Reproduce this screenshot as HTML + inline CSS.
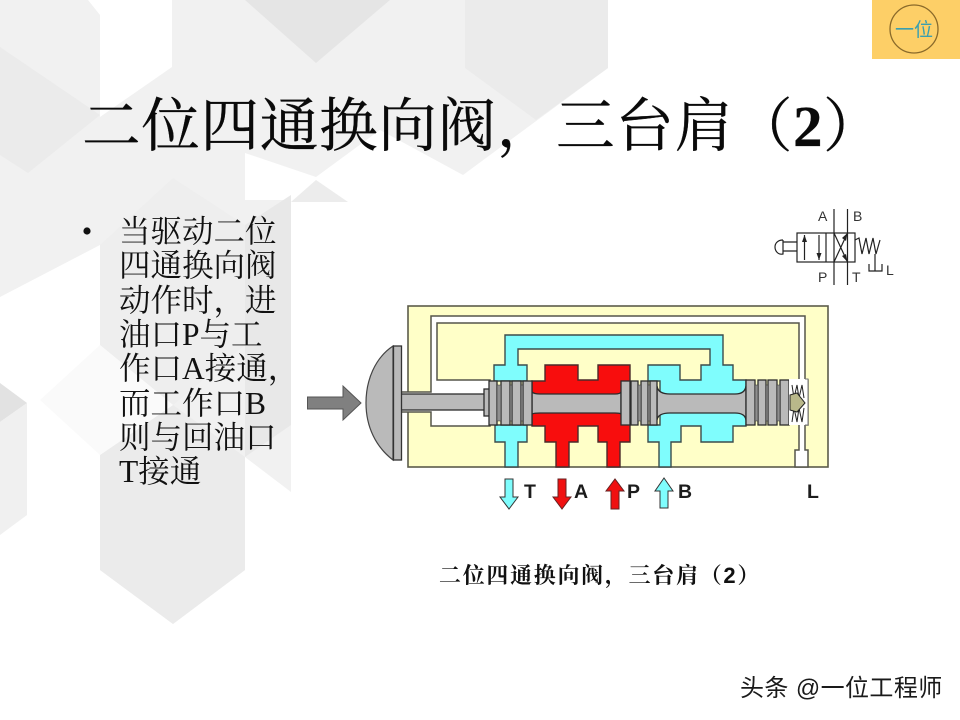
<!DOCTYPE html>
<html lang="zh"><head><meta charset="utf-8"><title>二位四通换向阀&#xFF0C;三台肩&#xFF08;2&#xFF09;</title>
<style>html,body{margin:0;padding:0;background:#fff}svg{display:block}
.b{font-family:"Liberation Serif","Noto Serif CJK SC",serif;font-size:31.5px;fill:#111}
.l{font-family:"Liberation Sans",sans-serif;font-weight:bold;font-size:19.5px;fill:#1c1c1c}
.s{font-family:"Liberation Sans",sans-serif;font-size:14px;fill:#333}</style></head>
<body>
<svg width="960" height="720" viewBox="0 0 960 720" xmlns="http://www.w3.org/2000/svg">
<rect width="960" height="720" fill="#fff"/>
<!-- background facets -->
<polygon points="0,0 88,0 100,15 100,117 172,67 172,0 608,0 608,68 463,175 380,130 316,177 245,153 245,200 291,200 291,492 245,457 245,570 173,624 100,570 100,455 173,405 100,345 100,245 0,297" fill="#f1f1f1"/>
<polygon points="245,0 390,0 316,63" fill="#e5e5e5"/>
<polygon points="465,0 608,0 608,68 536,120 465,68" fill="#ebebeb"/>
<polygon points="0,47 100,115 28,173 0,155" fill="#ebebeb"/>
<polygon points="100,245 173,178 245,225 245,345 173,405 100,345" fill="#eeeeee"/>
<polygon points="245,225 291,195 291,425 245,457" fill="#e8e8e8"/>
<polygon points="100,455 173,405 245,457 245,570 173,624 100,570" fill="#ebebeb"/>
<polygon points="100,345 173,405 100,455 40,400" fill="#fafafa"/>
<polygon points="0,383 27,403 0,422" fill="#e2e2e2"/>
<polygon points="0,422 27,403 27,515 0,535" fill="#f0f0f0"/>
<polygon points="316,180 291,202 348,202" fill="#ececec"/>
<rect x="291" y="202" width="614" height="393" fill="#fff"/>

<!-- badge -->
<rect x="872" y="0" width="88" height="59" fill="#fdcf67"/>
<circle cx="914" cy="29" r="24" fill="none" stroke="#8a6a2a" stroke-width="1.3"/>
<text x="914" y="36" text-anchor="middle" font-family="'Liberation Sans','Noto Sans CJK SC',sans-serif" font-size="19" fill="#3a9fb0">一位</text>

<!-- title -->
<text x="82" y="146" letter-spacing=".6" stroke="#0a0a0a" stroke-width=".3" font-family="'Noto Serif CJK SC',serif" font-size="58.67" fill="#0a0a0a">二位四通换向阀&#xFF0C;三台肩&#xFF08;<tspan font-family="'Liberation Serif',serif" font-weight="bold">2</tspan>&#xFF09;</text>

<!-- bullets -->
<circle cx="87" cy="231" r="3.6" fill="#111"/>
<text class="b" x="119" y="242">当驱动二位</text>
<text class="b" x="119" y="276">四通换向阀</text>
<text class="b" x="119" y="311">动作时&#xFF0C;进</text>
<text class="b" x="119" y="345">油口P与工</text>
<text class="b" x="119" y="379">作口A接通&#xFF0C;</text>
<text class="b" x="119" y="414">而工作口B</text>
<text class="b" x="119" y="448">则与回油口</text>
<text class="b" x="119" y="482">T接通</text>

<!-- symbol -->
<g fill="none" stroke="#222" stroke-width="1.2">
<rect x="797" y="233" width="58" height="29"/>
<path d="M826 233V262M834 209V285M847.5 209V285M834 233L847.5 262M847.5 233L834 262"/>
<path d="M804.5 235V260M819 235V260"/>
<path d="M797 242H783M797 251H783M783 240C777 240 775 244 775 247C775 251 778 255 783 254V240"/>
<path d="M855 240L859 238L862 254L866 238L869 254L873 238L876 254L880 240M875 254V268M869 264V271H882V264M875 268V271"/>
</g>
<g fill="#222"><polygon points="804.5,235 802,242 807,242"/><polygon points="819,260 816.5,253 821.5,253"/><polygon points="847.5,233 842,238 846,241"/><polygon points="847.5,262 842,256 846,254"/></g>
<text class="s" x="818" y="221">A</text><text class="s" x="853" y="221">B</text>
<text class="s" x="818" y="282">P</text><text class="s" x="852" y="282">T</text><text class="s" x="886" y="275">L</text>

<!-- valve body -->
<rect x="408" y="306" width="420" height="161" fill="#ffffc8" stroke="#5c5c4a" stroke-width="1.6"/>
<!-- white channels -->
<path d="M431 316H805V380H808V425H805V450H808V467H795V450H799V380V323H437V380H490V426H431V412H401V392H431Z" fill="#fff" stroke="#55554a" stroke-width="1.5"/>
<!-- cyan -->
<path d="M505 467V442H495V425H527V381H494V365H505V335H723V365H733V380H746V426H733V442H701V426H681V442H671V467H659V442H648V425H660V381H648V365H680V380H701V365H710V349H518V365H527V425H527V442H518V467Z" fill="#7ffdfd" stroke="#3c4c4c" stroke-width="1.4"/>
<!-- red -->
<path d="M532 381H545V365H578V380H598V365H630V426H630V442H620V467H607V442H598V426H578V442H569V467H556V442H545V426H532Z" fill="#f80d0d" stroke="#4a2a2a" stroke-width="1.4"/>
<!-- spool -->
<g fill="#bababa" stroke="#2c2c2c" stroke-width="1.3">
<rect x="401" y="394" width="84" height="16"/>
<rect x="484" y="389" width="6" height="27"/>
<path d="M532 392Q534 394 540 394H615Q620 394 621 392V414Q620 413 615 413H540Q534 413 532 414Z"/>
<path d="M657 386Q658 394 670 394H735Q745 394 746 386V420Q745 413 735 413H670Q658 413 657 420Z"/>
<rect x="489" y="381" width="8" height="44"/><rect x="501" y="381" width="9" height="44"/><rect x="512" y="381" width="9" height="44"/><rect x="523" y="381" width="9" height="44"/>
<rect x="621" y="381" width="9" height="44"/><rect x="631" y="381" width="7" height="44"/><rect x="641" y="381" width="7" height="44"/><rect x="650" y="381" width="7" height="44"/>
<rect x="746" y="380" width="9" height="45"/><rect x="758" y="380" width="8" height="45"/><rect x="768" y="380" width="9" height="45"/><rect x="780" y="380" width="9" height="45"/>
</g>
<path d="M497 385H501V421H497ZM510 385H512V421H510ZM521 385H523V421H521ZM638 385H641V421H638ZM648 385H650V421H648ZM755 385H758V421H755ZM766 385H768V421H766ZM777 385H780V421H777Z" fill="#8f8f8f" stroke="#333" stroke-width=".6"/>
<!-- spring chamber -->
<rect x="789" y="379" width="19" height="46" fill="#fff"/>
<path d="M805 379H808V425H805" fill="none" stroke="#777" stroke-width="1"/>
<path d="M792 385L794 398L797 385L799 398L802 385L804 398M792 422L794 408L797 422L799 408L802 422L804 408" fill="none" stroke="#222" stroke-width="1"/>
<path d="M790 395L797 393L805 403L797 412L790 410Z" fill="#b9b88a" stroke="#222" stroke-width="1"/>
<!-- knob -->
<path d="M393 346C375 358 366 380 366 403C366 427 376 447 393 460Z" fill="#bababa" stroke="#444" stroke-width="1.2"/>
<rect x="393.5" y="346" width="8" height="114" fill="#bababa" stroke="#333" stroke-width="1.3"/>
<!-- push arrow -->
<polygon points="307.5,397 343,397 343,386 361,403 343,420 343,409 307.5,409" fill="#808080" stroke="#555" stroke-width="1"/>
<!-- port arrows -->
<g stroke="#333" stroke-width="1">
<polygon points="505,479 513,479 513,497 518,497 509,509 500,497 505,497" fill="#7ffdfd"/>
<polygon points="558,479 566,479 566,497 571,497 562,509 553,497 558,497" fill="#f01010" stroke="#622"/>
<polygon points="611,509 619,509 619,491 624,491 615,479 606,491 611,491" fill="#f01010" stroke="#622"/>
<polygon points="660,508 668,508 668,491 673,491 664,478 655,491 660,491" fill="#7ffdfd"/>
</g>
<text class="l" x="524" y="498">T</text><text class="l" x="574" y="498">A</text><text class="l" x="627" y="498">P</text><text class="l" x="678" y="498">B</text><text class="l" x="807" y="498">L</text>
<!-- caption -->
<text x="439" y="583" letter-spacing="1.7" font-family="'Noto Serif CJK SC',serif" font-weight="bold" font-size="22" fill="#111">二位四通换向阀&#xFF0C;三台肩&#xFF08;<tspan font-family="'Liberation Sans',sans-serif">2</tspan>&#xFF09;</text>
<!-- watermark -->
<text x="740" y="696" letter-spacing=".4" font-family="'Liberation Sans','Noto Sans CJK SC',sans-serif" font-size="24" fill="#1a1a1a">头条 @一位工程师</text>
</svg>
</body></html>
